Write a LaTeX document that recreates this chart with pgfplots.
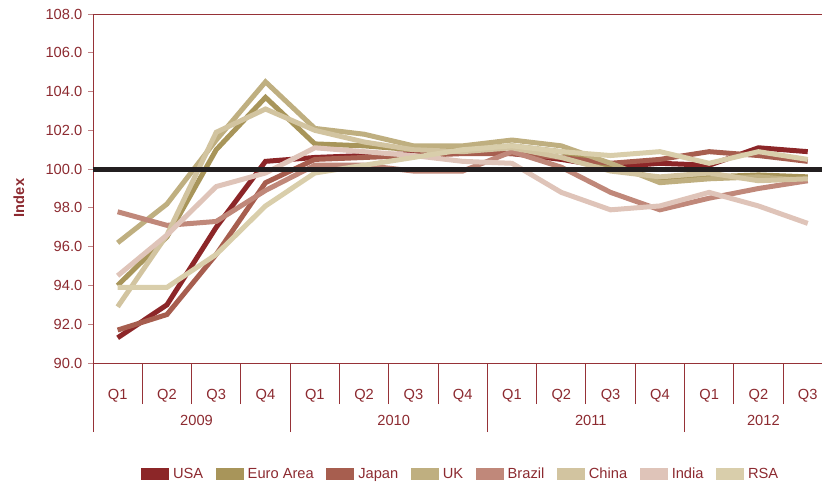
\documentclass[border=0pt]{standalone}
\usepackage{fontspec}
\setmainfont{Liberation Sans}
\usepackage{pgfplots}
\usepackage{pgfplotstable}
\pgfplotsset{compat=1.18}
\definecolor{tc}{RGB}{140,42,48}
\definecolor{ax}{RGB}{150,50,55}
\definecolor{cUSA}{RGB}{140,38,40}
\definecolor{cEuro}{RGB}{168,149,90}
\definecolor{cJapan}{RGB}{167,94,79}
\definecolor{cUK}{RGB}{191,175,128}
\definecolor{cBrazil}{RGB}{192,136,122}
\definecolor{cChina}{RGB}{210,196,160}
\definecolor{cIndia}{RGB}{223,196,185}
\definecolor{cRSA}{RGB}{217,206,171}
\definecolor{blk}{RGB}{35,31,32}
\pgfplotstableread{
x USA Euro Japan UK Brazil China India RSA
1  91.3  94.0  91.7  96.2  97.8  92.9  94.5  93.9
2  93.0  96.5  92.5  98.2  97.1  96.6  96.6  93.9
3  97.0 101.0  95.6 101.5  97.3 101.9  99.1  95.6
4 100.4 103.7  99.3 104.5  98.9 103.1  99.8  98.1
5 100.6 101.3 100.5 102.1 100.2 102.0 101.1  99.8
6 100.7 101.2 100.6 101.8 100.2 101.4 100.9 100.2
7 100.8 101.0 100.7 101.2  99.9 101.0 100.7 100.6
8 100.9 101.0 100.8 101.2  99.9 100.9 100.4 101.0
9 100.8 101.2 100.8 101.5 100.9 101.1 100.3 101.2
10 100.5 100.9 100.6 101.2 100.1 100.6  98.8 100.9
11 100.1 100.1 100.3 100.3  98.8  99.9  97.9 100.7
12 100.3  99.5 100.5  99.3  97.9  99.6  98.1 100.9
13 100.2  99.6 100.9  99.5  98.5  99.8  98.8 100.3
14 101.1  99.7 100.7  99.6  99.0  99.4  98.1 100.9
15 100.9  99.6 100.4  99.4  99.4  99.5  97.2 100.5
}\datatable
\begin{document}
\begin{tikzpicture}
\useasboundingbox (-69.75pt,-89.25pt) rectangle (546.75pt,272.25pt);
\begin{axis}[
  at={(0,0)}, anchor=south west,
  scale only axis,
  width=549pt, height=261.75pt,
  xmin=0.5, xmax=15.35,
  ymin=90, ymax=108,
  axis line style={ax, line width=0.7pt},
  tick pos=left,
  ytick={90,92,...,108},
  yticklabel style={tc, font=\fontsize{11}{13}\selectfont, xshift=-1pt},
  /pgf/number format/.cd, fixed, fixed zerofill, precision=1, assume math mode=true,
  /pgfplots/.cd,
  tick align=outside,
  ytick style={ax!60, line width=0.6pt},
  major tick length=3.5pt,
  xtick={1,...,15},
  xticklabels={Q1,Q2,Q3,Q4,Q1,Q2,Q3,Q4,Q1,Q2,Q3,Q4,Q1,Q2,Q3},
  xticklabel style={tc, font=\fontsize{11}{13}\selectfont, anchor=center, yshift=-21pt},
  xtick style={draw=none},
  minor xtick={0.5,1.5,...,14.5},
  minor x tick style={ax, line width=0.7pt, draw=ax},
  minor tick length=30.75pt,
  extra x ticks={0.5,4.5,8.5,12.5},
  extra x tick labels={},
  extra x tick style={xtick style={draw=ax, line width=0.7pt}, major tick length=51.75pt},
  clip=false,
  legend columns=8,
  legend style={draw=none, fill=none, at={(0.5027,-0.318)}, anchor=center,
    font=\fontsize{11}{13}\selectfont, text=tc,
    /tikz/every even column/.append style={column sep=7.4pt},
    /tikz/every odd column/.append style={column sep=1pt}},
  legend image code/.code={\fill[#1] (0pt,-2.6pt) rectangle (17.25pt,2.6pt);},
  every axis plot/.append style={line width=3.75pt, line join=miter, miter limit=10},
]
\addplot[cUSA] table[x=x,y=USA]{\datatable};
\addlegendentry{USA}
\addplot[cEuro] table[x=x,y=Euro]{\datatable};
\addlegendentry{Euro Area}
\addplot[cJapan] table[x=x,y=Japan]{\datatable};
\addlegendentry{Japan}
\addplot[cUK] table[x=x,y=UK]{\datatable};
\addlegendentry{UK}
\addplot[cBrazil] table[x=x,y=Brazil]{\datatable};
\addlegendentry{Brazil}
\addplot[cChina] table[x=x,y=China]{\datatable};
\addlegendentry{China}
\addplot[cIndia] table[x=x,y=India]{\datatable};
\addlegendentry{India}
\addplot[cRSA] table[x=x,y=RSA]{\datatable};
\addlegendentry{RSA}
\addplot[gray!80, line width=0.6pt, forget plot] coordinates {(0.5,99.89) (15.35,99.89)};
\addplot[blk, line width=3.75pt, forget plot] coordinates {(0.5,100) (15.35,100)};
\node[tc, font=\fontsize{11}{13}\selectfont] at (axis cs:2.6,90) [yshift=-42.75pt] {2009};
\node[tc, font=\fontsize{11}{13}\selectfont] at (axis cs:6.6,90) [yshift=-42.75pt] {2010};
\node[tc, font=\fontsize{11}{13}\selectfont] at (axis cs:10.6,90) [yshift=-42.75pt] {2011};
\node[tc, font=\fontsize{11}{13}\selectfont] at (axis cs:14.1,90) [yshift=-42.75pt] {2012};
\end{axis}
\node[tc, font=\bfseries\fontsize{11}{13}\selectfont, rotate=90] at (-55.5pt,123.75pt) {Index};
\end{tikzpicture}
\end{document}
